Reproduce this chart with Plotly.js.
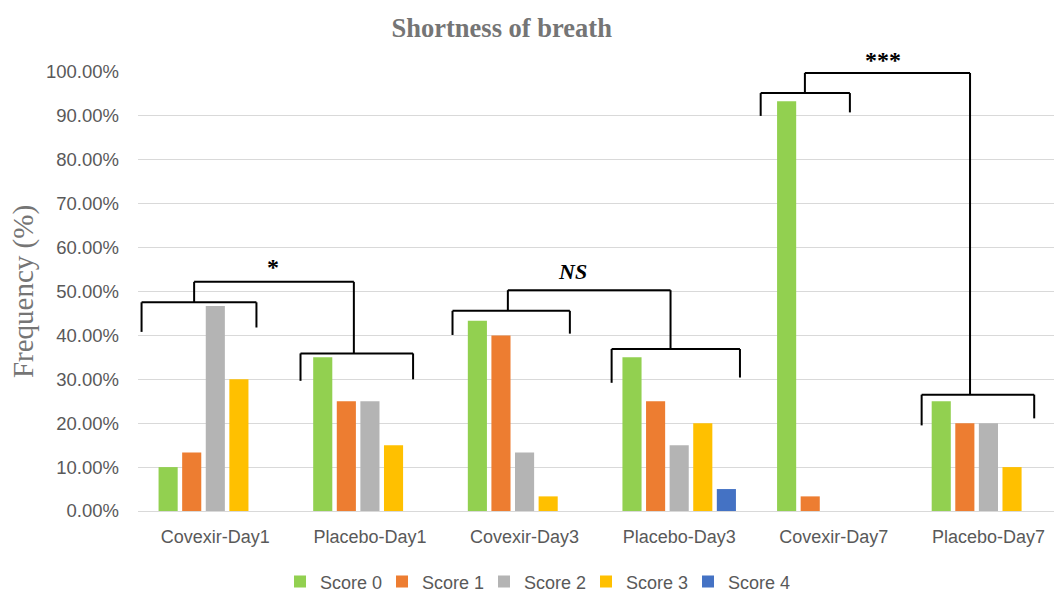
<!DOCTYPE html>
<html>
<head>
<meta charset="utf-8">
<script src="https://cdn.plot.ly/plotly-3.0.1.min.js"></script>
<style>html,body{margin:0;padding:0;background:#fff;}#chart{width:1054px;height:595px;}</style>
</head>
<body>
<div id="chart"></div>
<script>
// ---- data ----
const categories = ["Covexir-Day1", "Placebo-Day1", "Covexir-Day3", "Placebo-Day3", "Covexir-Day7", "Placebo-Day7"];
const seriesNames = ["Score 0", "Score 1", "Score 2", "Score 3", "Score 4"];
const score0 = [0.10, 0.35, 0.4333, 0.35, 0.9333, 0.25];
const score1 = [0.1333, 0.25, 0.40, 0.25, 0.0333, 0.20];
const score2 = [0.4667, 0.25, 0.1333, 0.15, 0, 0.20];
const score3 = [0.30, 0.15, 0.0333, 0.20, 0, 0.10];
const score4 = [0, 0, 0, 0.05, 0, 0];
const significance = ["*", "NS", "***"];
const yTickValues = [0, 0.1, 0.2, 0.3, 0.4, 0.5, 0.6, 0.7, 0.8, 0.9, 1.0];

// ---- styling ----
const colors = ["#92D050", "#ED7D31", "#B4B4B4", "#FFC000", "#4472C4"];
const values = [score0, score1, score2, score3, score4];
const sansFont = "Liberation Sans, Arial, sans-serif";
const serifFont = "Liberation Serif, Times New Roman, serif";

const traces = seriesNames.map((name, i) => ({
  type: "bar",
  name: name,
  x: categories,
  y: values[i],
  marker: {color: colors[i]},
  hoverinfo: "x+y+name"
}));

// bracket geometry, relative to the category index of each compared pair
const bracketDefs = [
  {a: 0, b: 1,
   A: {x0: -0.477, x1: 0.266, y: 0.4754, l0: 0.408, l1: 0.418, stem: -0.137},
   B: {x0: -0.449, x1: 0.279, y: 0.359, l0: 0.2965, l1: 0.300, stem: -0.104},
   top: 0.522, labelX: 0.37, labelY: 0.556, italic: false, size: 24},
  {a: 2, b: 3,
   A: {x0: -0.466, x1: 0.293, y: 0.456, l0: 0.401, l1: 0.404, stem: -0.108},
   B: {x0: -0.437, x1: 0.393, y: 0.369, l0: 0.292, l1: 0.304, stem: -0.056},
   top: 0.503, labelX: 0.31, labelY: 0.545, italic: true, size: 22},
  {a: 4, b: 5,
   A: {x0: -0.473, x1: 0.104, y: 0.952, l0: 0.900, l1: 0.908, stem: -0.187},
   B: {x0: -0.432, x1: 0.296, y: 0.265, l0: 0.195, l1: 0.211, stem: -0.119},
   top: 0.998, labelX: 0.316, labelY: 1.028, italic: false, size: 24}
];

const shapes = [];
const annotations = [];
const lineStyle = {color: "#000000", width: 2};
function seg(x0, y0, x1, y1) {
  shapes.push({type: "line", xref: "x", yref: "y", x0: x0, y0: y0, x1: x1, y1: y1, line: lineStyle, layer: "above"});
}
bracketDefs.forEach((d, k) => {
  const A = d.A, B = d.B;
  seg(d.a + A.x0, A.l0, d.a + A.x0, A.y);
  seg(d.a + A.x0, A.y, d.a + A.x1, A.y);
  seg(d.a + A.x1, A.y, d.a + A.x1, A.l1);
  seg(d.b + B.x0, B.l0, d.b + B.x0, B.y);
  seg(d.b + B.x0, B.y, d.b + B.x1, B.y);
  seg(d.b + B.x1, B.y, d.b + B.x1, B.l1);
  seg(d.a + A.stem, A.y, d.a + A.stem, d.top);
  seg(d.a + A.stem, d.top, d.b + B.stem, d.top);
  seg(d.b + B.stem, d.top, d.b + B.stem, B.y);
  annotations.push({
    xref: "x", yref: "paper", x: d.a + d.labelX, y: d.labelY,
    xanchor: "center", yanchor: "middle",
    text: d.italic ? "<b><i>" + significance[k] + "</i></b>" : "<b>" + significance[k] + "</b>",
    showarrow: false,
    font: {family: serifFont, size: d.size, color: "#000000"}
  });
});

const layout = {
  width: 1054, height: 595,
  paper_bgcolor: "#ffffff", plot_bgcolor: "#ffffff",
  margin: {l: 138, r: 0, t: 72, b: 84},
  title: {
    text: "<b>Shortness of breath</b>",
    font: {family: serifFont, size: 26.5, color: "#757575"},
    x: 0.476, xanchor: "center", xref: "container",
    y: 0.953, yanchor: "middle", yref: "container"
  },
  barmode: "group",
  bargap: 0.237,
  bargroupgap: 0.19,
  xaxis: {
    type: "category",
    range: [-0.5, 5.424],
    showgrid: false,
    showline: true, linecolor: "#D9D9D9", linewidth: 1,
    ticks: "",
    ticklabelstandoff: 9,
    tickfont: {family: sansFont, size: 18, color: "#595959"},
    fixedrange: true
  },
  yaxis: {
    range: [0, 1.0],
    tickvals: yTickValues,
    tickformat: ".2%",
    showgrid: true, gridcolor: "#D9D9D9", gridwidth: 1,
    zeroline: true, zerolinecolor: "#D9D9D9", zerolinewidth: 1,
    showline: false,
    ticks: "",
    ticklabelstandoff: 18,
    tickfont: {family: sansFont, size: 18.5, color: "#595959"},
    title: {text: "Frequency (%)", font: {family: serifFont, size: 29, color: "#757575"}, standoff: 3},
    fixedrange: true
  },
  showlegend: true,
  legend: {
    orientation: "h",
    xref: "container", yref: "container",
    x: 0.5076, xanchor: "center",
    y: 0.022, yanchor: "middle",
    font: {family: sansFont, size: 18, color: "#595959"},
    itemwidth: 30,
    entrywidth: 57,
    entrywidthmode: "pixels",
    traceorder: "normal"
  },
  shapes: shapes,
  annotations: annotations
};

Plotly.newPlot("chart", traces, layout, {displayModeBar: false, staticPlot: true});
</script>
</body>
</html>
